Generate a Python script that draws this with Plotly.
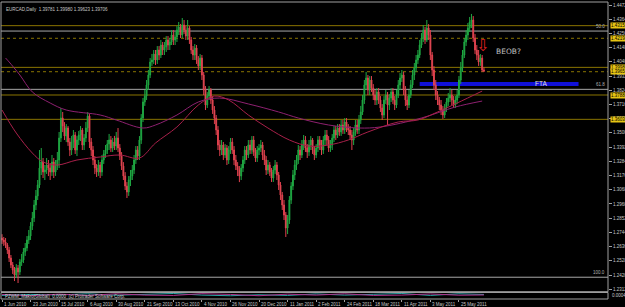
import plotly.graph_objects as go

title_text = "EURCAD,Daily  1.39781 1.39980 1.39623 1.39706"

first_open = 1.2700
close = [
 1.2686, 1.2671,
 1.2648,1.2610,1.2549,1.2496,1.2458,1.2420,1.2473,1.2443,1.2519,1.2534,
 1.2595,1.2625,1.2686,1.2716,1.2792,1.2853,1.2952,1.3020,1.3104,1.3233,
 1.3279,1.3203,1.3218,1.3256,1.3233,1.3203,1.3279,1.3203,1.3248,1.3294,
 1.3461,1.3613,1.3552,1.3476,1.3537,1.3431,1.3370,1.3431,1.3484,1.3370,
 1.3446,1.3484,1.3522,1.3408,1.3461,1.3537,1.3628,1.3431,1.3370,1.3294,1.3233,
 1.3203,1.3256,1.3203,1.3294,1.3340,1.3370,1.3416,1.3446,1.3385,1.3431,
 1.3400,1.3461,1.3385,1.3324,1.3248,1.3172,1.3096,1.3051,1.3142,1.3172,
 1.3218,1.3294,1.3370,1.3324,1.3446,1.3613,1.3735,1.3780,1.3864,1.3940,
 1.4039,1.4054,1.4100,1.4054,1.4130,1.4092,1.4168,1.4130,1.4153,1.4206,
 1.4168,1.4191,1.4244,1.4206,1.4229,1.4282,1.4305,1.4244,1.4320,1.4282,1.4236,
 1.4297,1.4206,1.4130,1.4092,1.4145,1.4054,1.4008,1.4069,1.3940,1.3826,
 1.3712,1.3780,1.3826,1.3750,1.3674,1.3613,1.3522,1.3408,1.3370,1.3408,
 1.3332,1.3385,1.3294,1.3370,1.3431,1.3370,1.3294,1.3248,1.3218,1.3172,
 1.3233,1.3294,1.3370,1.3332,1.3408,1.3370,1.3446,1.3355,1.3309,1.3370,1.3385,
 1.3408,1.3332,1.3294,1.3218,1.3256,1.3203,1.3157,1.3218,1.3256,1.3180,
 1.3104,1.3028,1.2952,1.2876,1.2777,1.2838,1.2990,1.3096,1.3180,1.3256,
 1.3294,1.3370,1.3332,1.3408,1.3446,1.3385,1.3355,1.3408,1.3446,1.3370,
 1.3332,1.3385,1.3446,1.3408,1.3370,1.3446,1.3484,1.3446,1.3385,1.3408,
 1.3461,1.3522,1.3484,1.3537,1.3507,1.3560,1.3522,1.3583,1.3537,1.3522,1.3484,
 1.3446,1.3507,1.3560,1.3522,1.3598,1.3659,1.3750,1.3864,1.3917,1.3826,
 1.3902,1.3841,1.3788,1.3750,1.3811,1.3750,1.3689,1.3636,1.3750,1.3788,
 1.3712,1.3765,1.3811,1.3750,1.3712,1.3788,1.3864,1.3917,1.3940,1.3826,
 1.3750,1.3712,1.3788,1.3864,1.3940,1.3993,1.4054,1.4092,1.4168,1.4221,
 1.4282,1.4206,1.4297,1.4244,1.4092,1.3978,1.3864,1.3788,1.3750,1.3712,1.3674,
 1.3636,1.3689,1.3735,1.3765,1.3788,1.3750,1.3712,1.3750,1.3788,1.3902,
 1.3993,1.4092,1.4191,1.4244,1.4297,1.4343,1.4358,1.4221,1.4130,1.4092,
 1.4039,1.4069,1.3978,1.39706]

upper_wick_pips = [
 30,23,
 30,15,23,23,23,23,30,23,23,46,
 30,38,30,46,30,46,38,46,38,137,
 106,30,38,53,38,38,53,30,46,61,
 46,76,46,30,30,15,30,46,38,23,
 30,30,30,15,30,46,30,15,30,30,30,
 30,38,23,38,30,38,30,46,30,30,
 46,46,76,30,30,30,30,30,30,46,
 38,38,30,30,30,30,30,46,38,38,
 30,46,30,30,30,30,38,23,38,30,
 30,30,38,38,38,30,38,23,53,38,30,
 61,15,23,30,30,23,30,30,23,23,
 30,30,30,15,30,30,23,30,38,38,
 23,30,23,30,30,30,30,38,30,30,
 30,30,30,30,38,38,30,30,30,30,30,
 38,23,38,30,38,23,30,30,38,23,
 23,23,23,38,23,38,30,30,38,38,
 38,38,30,38,38,30,30,38,30,15,
 30,30,30,30,38,30,38,38,30,38,
 30,30,30,30,30,38,38,30,30,30,30,
 38,30,38,38,38,46,38,38,46,23,
 30,30,30,38,30,30,30,30,30,38,
 23,30,30,30,30,38,38,38,38,23,
 30,30,38,38,38,38,38,38,38,38,
 38,23,61,30,38,23,30,38,30,23,38,
 30,30,30,38,53,38,30,30,38,30,
 46,38,30,38,38,38,46,30,30,38,
 38,30,23,20]

lower_wick_pips = [
 30,30,
 23,30,30,23,30,46,23,84,23,30,
 23,30,23,30,30,30,30,38,30,23,
 53,46,61,30,61,61,30,46,30,30,
 61,30,46,30,46,30,46,38,46,30,
 46,38,46,38,38,30,30,46,46,38,46,
 38,30,46,30,30,30,30,46,30,30,
 30,30,30,30,30,30,30,46,30,46,
 30,30,30,30,30,30,30,30,30,38,
 23,30,30,38,30,38,23,38,38,38,
 38,38,23,38,38,38,38,23,23,30,30,
 30,30,30,38,38,30,30,30,38,38,
 38,23,30,30,30,46,38,38,46,38,
 38,23,38,30,30,30,38,30,46,46,
 30,30,30,38,23,30,30,30,30,30,38,
 30,38,38,38,30,30,30,30,30,38,
 38,38,38,38,68,46,30,30,30,38,
 38,30,38,23,38,30,46,30,38,30,
 38,23,30,38,38,30,38,38,30,30,
 38,30,38,23,30,30,30,30,30,38,38,
 76,38,30,30,30,30,23,30,38,38,
 38,30,38,38,38,30,30,38,23,30,
 152,38,30,30,38,23,23,38,30,38,
 46,38,23,23,23,38,30,30,23,23,
 30,30,15,38,38,46,38,38,38,38,38,
 30,23,30,30,30,38,23,23,30,23,
 30,30,23,30,38,30,46,30,30,38,
 30,30,15,8]

# moving averages (sampled at bars)
ma_fast_bar = [0, 8, 17, 23, 31, 42, 55, 66, 77, 86, 98, 110, 119, 127, 138, 149, 161, 172, 183, 194, 205, 222, 233, 244, 255, 269]
ma_fast = [1.3674, 1.3499, 1.3347, 1.3279, 1.3256, 1.3294, 1.3317, 1.3332, 1.3309, 1.3423, 1.3545, 1.3712, 1.3780, 1.3750,
           1.3636, 1.3537, 1.3446, 1.3400, 1.3408, 1.3446, 1.3507, 1.3583, 1.3598, 1.3659, 1.3727, 1.3818]
ma_slow_bar = [2, 4, 10, 17, 27, 36, 55, 64, 79, 86, 98, 110, 122, 138, 155, 166, 183, 200, 212, 235, 254, 269]
ma_slow = [1.4069, 1.4039, 1.3940, 1.3811, 1.3727, 1.3674, 1.3636, 1.3598, 1.3537, 1.3560, 1.3636, 1.3735, 1.3765, 1.3720,
           1.3659, 1.3613, 1.3560, 1.3537, 1.3545, 1.3613, 1.3697, 1.3742]

date_labels = ["1 Jun 2010", "23 Jun 2010", "15 Jul 2010", "6 Aug 2010", "30 Aug 2010", "21 Sep 2010",
               "13 Oct 2010", "4 Nov 2010", "26 Nov 2010", "20 Dec 2010", "11 Jan 2011", "2 Feb 2011",
               "24 Feb 2011", "18 Mar 2011", "11 Apr 2011", "3 May 2011", "25 May 2011"]
bars_per_label = 16

price_ticks = [1.4472, 1.4364, 1.4256, 1.4148, 1.4040, 1.3932, 1.3824, 1.3716, 1.3608, 1.3500, 1.3392,
               1.3284, 1.3176, 1.3068, 1.2960, 1.2852, 1.2744, 1.2636, 1.2528, 1.2420, 1.2312]

olive_solid = [1.4315, 1.3998, 1.3788, 1.3603]
olive_dotted = [1.4219, 1.3965]
fib_levels = [1.4274, 1.3831, 1.2403]
fib_labels = ["50.0", "61.8", "100.0"]
fta_level = 1.3872
fta_bars = [234, 323]
fta_text = "FTA"
fta_text_bar = 302
beob_text = "BEOB?"
beob_pos = [284, 1.4115]
arrow_pos = [269, 1.4165]

ind_bar = [0, 16, 32, 48, 64, 80, 96, 112, 128, 144, 160, 176, 192, 208, 224, 240, 256, 270]
ind_a = [0.55, 0.70, 0.62, 0.80, 0.58, 0.75, 0.85, 0.60, 0.50, 0.65, 0.55, 0.78, 0.60, 0.72, 0.85, 0.55, 0.80, 0.70]
ind_b = [0.70, 0.50, 0.75, 0.55, 0.80, 0.60, 0.55, 0.82, 0.70, 0.50, 0.75, 0.60, 0.80, 0.55, 0.60, 0.78, 0.58, 0.62]
ind_text = "PZWM_Makro(Global)  0.0000  (c) Protrader Software Corp."
ind_value_text = "0.00044"

n = len(close)
assert len(upper_wick_pips) == n and len(lower_wick_pips) == n, (n, len(upper_wick_pips), len(lower_wick_pips))
bars = list(range(n))
opens = [first_open] + close[:-1]
highs = [max(o, c) + u * 1e-4 for o, c, u in zip(opens, close, upper_wick_pips)]
lows = [min(o, c) - l * 1e-4 for o, c, l in zip(opens, close, lower_wick_pips)]

FONT = "Liberation Sans Narrow, Liberation Sans, DejaVu Sans"
GRAY = "#c8c8c8"
OLIVE = "#8a7400"

fig = go.Figure()
fig.add_trace(go.Candlestick(
    x=bars, open=opens, high=highs, low=lows, close=close,
    increasing=dict(line=dict(color="#1fa843", width=1), fillcolor="#1fa843"),
    decreasing=dict(line=dict(color="#e0404e", width=1), fillcolor="#f27474"),
    whiskerwidth=0, hoverinfo="skip", showlegend=False, xaxis="x", yaxis="y"))
fig.add_trace(go.Scatter(x=ma_slow_bar, y=ma_slow, mode="lines", line=dict(color="#8e2070", width=1, shape="spline"),
                         hoverinfo="skip", showlegend=False, xaxis="x", yaxis="y"))
fig.add_trace(go.Scatter(x=ma_fast_bar, y=ma_fast, mode="lines", line=dict(color="#a8204a", width=1, shape="spline"),
                         hoverinfo="skip", showlegend=False, xaxis="x", yaxis="y"))
fig.add_trace(go.Scatter(x=ind_bar, y=ind_a, mode="lines", line=dict(color="#2aa7a7", width=1),
                         hoverinfo="skip", showlegend=False, xaxis="x", yaxis="y2"))
fig.add_trace(go.Scatter(x=ind_bar, y=ind_b, mode="lines", line=dict(color="#b0308a", width=1),
                         hoverinfo="skip", showlegend=False, xaxis="x", yaxis="y2"))

shapes = []
for lv in olive_solid:
    shapes.append(dict(type="line", xref="paper", x0=0, x1=1, yref="y", y0=lv, y1=lv,
                       line=dict(color=OLIVE, width=1), layer="below"))
for lv in olive_dotted:
    shapes.append(dict(type="line", xref="paper", x0=0, x1=1, yref="y", y0=lv, y1=lv,
                       line=dict(color=OLIVE, width=1, dash="dot"), layer="below"))
for lv in fib_levels:
    shapes.append(dict(type="line", xref="paper", x0=0, x1=1, yref="y", y0=lv, y1=lv,
                       line=dict(color="#a8a8a8", width=1), layer="below"))
shapes.append(dict(type="line", xref="x", x0=fta_bars[0], x1=fta_bars[1], yref="y", y0=fta_level, y1=fta_level,
                   line=dict(color="#1010d8", width=4), layer="below"))
main_bottom = 0.0246
ind_top = 0.0219
shapes.append(dict(type="rect", xref="paper", yref="paper", x0=0, x1=1, y0=main_bottom, y1=1,
                   line=dict(color="#a0a0a0", width=1)))
shapes.append(dict(type="rect", xref="paper", yref="paper", x0=0, x1=1, y0=0, y1=ind_top,
                   line=dict(color="#a0a0a0", width=1)))

ann = []
ann.append(dict(text=title_text, xref="paper", yref="paper", x=0.005, y=1, xanchor="left", yanchor="top",
                yshift=-3, showarrow=False, font=dict(family=FONT, size=4.5, color=GRAY)))
for k, lab in enumerate(date_labels):
    ann.append(dict(text=lab, xref="x", yref="paper", x=k * bars_per_label, y=0, xanchor="left", yanchor="top",
                    xshift=0, yshift=-1, showarrow=False, font=dict(family=FONT, size=4.5, color=GRAY)))
for lv in olive_solid + olive_dotted:
    ann.append(dict(text=f"{lv:.5f}", xref="paper", yref="y", x=1, y=lv, xanchor="left", yanchor="middle",
                    xshift=2, showarrow=False, bgcolor="#e6c414", borderpad=0,
                    font=dict(family=FONT, size=4.5, color="#000000")))
for lv, lab in zip(fib_levels, fib_labels):
    ann.append(dict(text=lab, xref="paper", yref="y", x=1, y=lv, xanchor="right", yanchor="bottom",
                    xshift=-1, showarrow=False, font=dict(family=FONT, size=4.5, color="#b0b0b0")))
ann.append(dict(text=fta_text, xref="x", yref="y", x=fta_text_bar, y=fta_level, showarrow=False,
                font=dict(family=FONT, size=6.5, color="#e0e0e0")))
ann.append(dict(text=beob_text, xref="x", yref="y", x=beob_pos[0], y=beob_pos[1], showarrow=False,
                font=dict(family="DejaVu Sans", size=7.5, color="#c0c0c0")))
ann.append(dict(text="⇩", xref="x", yref="y", x=arrow_pos[0], y=arrow_pos[1], showarrow=False,
                font=dict(family="DejaVu Sans", size=16, color="#e02020")))
ann.append(dict(text=ind_text, xref="paper", yref="paper", x=0.004, y=ind_top, xanchor="left", yanchor="top",
                yshift=0, showarrow=False, font=dict(family=FONT, size=4.5, color="#d0d0d0")))
ann.append(dict(text=ind_value_text, xref="paper", yref="paper", x=1, y=ind_top / 2, xanchor="left", yanchor="middle",
                xshift=2, showarrow=False, font=dict(family=FONT, size=4.5, color=GRAY)))

fig.update_layout(
    width=625, height=307,
    margin=dict(l=1, r=17, t=2, b=8),
    paper_bgcolor="#000000", plot_bgcolor="#000000",
    showlegend=False,
    xaxis=dict(range=[-0.56, 339.5], anchor="y2", showgrid=False, zeroline=False,
               rangeslider=dict(visible=False), tickvals=[k * bars_per_label for k in range(len(date_labels))],
               showticklabels=False, ticks="outside", ticklen=2, tickcolor="#a0a0a0", showline=False),
    yaxis=dict(domain=[main_bottom, 1], range=[1.22931, 1.44948], side="right", anchor="x",
               tickvals=price_ticks, ticktext=[f"{v:.5f}" for v in price_ticks],
               ticks="outside", ticklen=3, tickcolor="#a0a0a0",
               tickfont=dict(family=FONT, size=4.5, color=GRAY),
               showgrid=False, zeroline=False, automargin=False, showline=False),
    yaxis2=dict(domain=[0, ind_top], range=[0, 1], side="right", anchor="x", showticklabels=False,
                showgrid=False, zeroline=False, automargin=False),
    shapes=shapes, annotations=ann,
)

fig.write_html("out.html")
